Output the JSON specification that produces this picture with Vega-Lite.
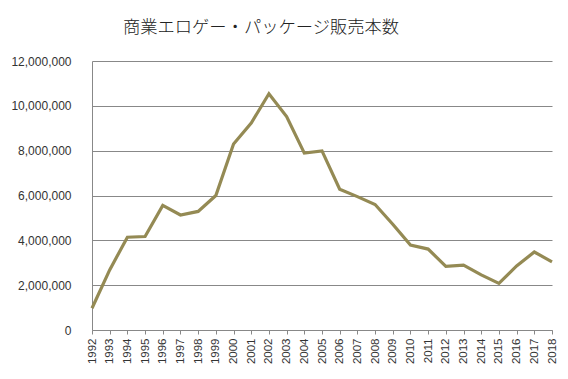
{
  "$schema": "https://vega.github.io/schema/vega-lite/v6.json",
  "width": 460,
  "height": 269,
  "autosize": {"type": "none"},
  "padding": {"left": 92, "top": 61, "right": 16, "bottom": 49},
  "background": "white",
  "title": {
    "text": "商業エロゲー・パッケージ販売本数",
    "font": "Noto Sans CJK JP",
    "fontSize": 17.3,
    "fontWeight": 300,
    "color": "#222222",
    "anchor": "middle",
    "dx": -61,
    "offset": 19
  },
  "data": {
    "values": [
      {"year": 1992, "sales": 970000},
      {"year": 1993, "sales": 2680000},
      {"year": 1994, "sales": 4140000},
      {"year": 1995, "sales": 4170000},
      {"year": 1996, "sales": 5560000},
      {"year": 1997, "sales": 5130000},
      {"year": 1998, "sales": 5290000},
      {"year": 1999, "sales": 6000000},
      {"year": 2000, "sales": 8300000},
      {"year": 2001, "sales": 9230000},
      {"year": 2002, "sales": 10540000},
      {"year": 2003, "sales": 9520000},
      {"year": 2004, "sales": 7890000},
      {"year": 2005, "sales": 7990000},
      {"year": 2006, "sales": 6280000},
      {"year": 2007, "sales": 5950000},
      {"year": 2008, "sales": 5600000},
      {"year": 2009, "sales": 4720000},
      {"year": 2010, "sales": 3790000},
      {"year": 2011, "sales": 3610000},
      {"year": 2012, "sales": 2840000},
      {"year": 2013, "sales": 2890000},
      {"year": 2014, "sales": 2460000},
      {"year": 2015, "sales": 2080000},
      {"year": 2016, "sales": 2860000},
      {"year": 2017, "sales": 3480000},
      {"year": 2018, "sales": 3040000}
    ]
  },
  "mark": {"type": "line", "color": "#948A54", "strokeWidth": 3.2, "strokeJoin": "miter"},
  "encoding": {
    "x": {
      "field": "year",
      "type": "quantitative",
      "scale": {"domain": [1992, 2018], "nice": false, "zero": false},
      "axis": {
        "title": null,
        "values": [1992,1993,1994,1995,1996,1997,1998,1999,2000,2001,2002,2003,2004,2005,2006,2007,2008,2009,2010,2011,2012,2013,2014,2015,2016,2017,2018],
        "format": "d",
        "labelAngle": 270,
        "labelAlign": "right",
        "labelBaseline": "middle",
        "labelFont": "Liberation Sans",
        "labelFontSize": 11.5,
        "labelColor": "#333333",
        "labelPadding": 4,
        "labelOverlap": false,
        "labelFlush": false,
        "grid": false,
        "domainColor": "#888888",
        "tickColor": "#888888",
        "tickSize": 4,
        "ticks": true
      }
    },
    "y": {
      "field": "sales",
      "type": "quantitative",
      "scale": {"domain": [0, 12000000], "nice": false},
      "axis": {
        "title": null,
        "values": [0,2000000,4000000,6000000,8000000,10000000,12000000],
        "format": ",d",
        "labelFont": "Liberation Sans",
        "labelFontSize": 12,
        "labelColor": "#333333",
        "labelPadding": 21,
        "ticks": false,
        "grid": true,
        "gridColor": "#888888",
        "gridWidth": 1,
        "domainColor": "#888888"
      }
    }
  },
  "config": {"view": {"stroke": null}}
}
